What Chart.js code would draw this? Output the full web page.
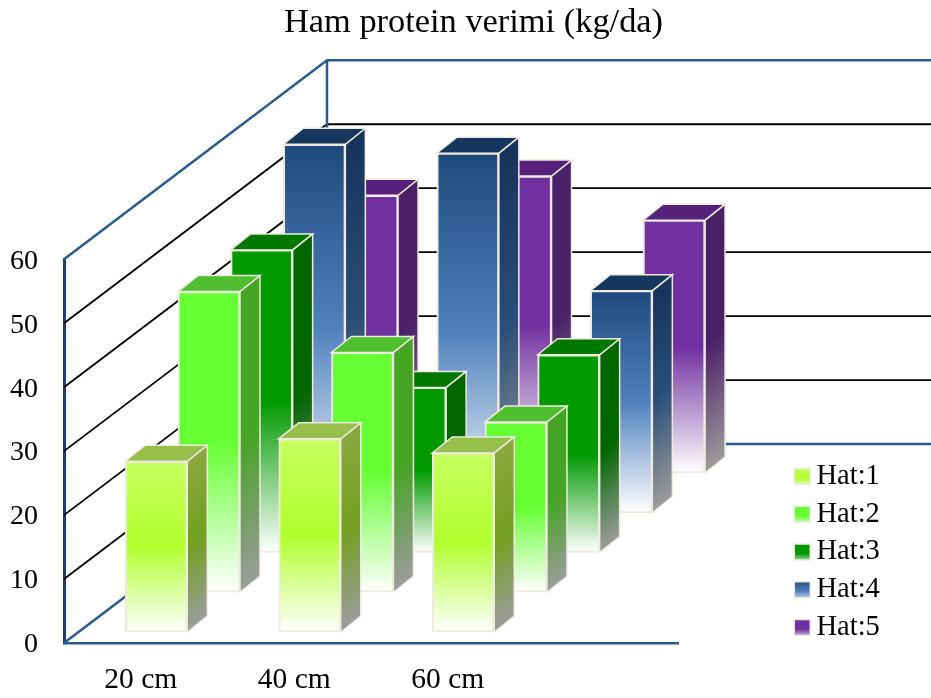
<!DOCTYPE html>
<html>
<head>
<meta charset="utf-8">
<style>html,body{margin:0;padding:0;background:#fff}canvas{display:block}</style>
<script src="https://cdn.jsdelivr.net/npm/chart.js@4"></script>
</head>
<body>
<canvas id="c" width="931" height="698"></canvas>
<script>
const categories = ['20 cm', '40 cm', '60 cm', ''];
const seriesNames = ['Hat:1', 'Hat:2', 'Hat:3', 'Hat:4', 'Hat:5'];
const hat1 = [26.7, 30.2, 28.0];
const hat2 = [47.0, 37.5, 26.6];
const hat3 = [47.3, 25.8, 30.9];
const hat4 = [57.6, 56.2, 34.7];
const hat5 = [43.4, 46.4, 39.5];
const seriesValues = [hat1, hat2, hat3, hat4, hat5];

const faceTop = ['#c8ff60', '#66ff33', '#009900', '#1f497d', '#7030a0'];
const faceMid = ['#b0ff2e', '#66ff33', '#009900', '#4f81bd', '#7030a0'];
const sideTop = ['#8aa83e', '#46a424', '#006600', '#16325a', '#4a2068'];
const sideMid = ['#72a01e', '#46a424', '#006600', '#2a4e78', '#4a2068'];
const topFace = ['#97c04a', '#4fbf2f', '#007700', '#17365d', '#55217a'];

const WALL_DX = 263, WALL_DY = -199;
const STEP_DX = 52.7, STEP_DY = -39.8;
const START_DX = 15.5, START_DY = -11;
const BAR_DX = 20, BAR_DY = -16;
const CREAM = '#eeeadf', WALL_BLUE = '#2b5a8c';

function faceGradient(ctx, i, top, base) {
  const g = ctx.createLinearGradient(0, top, 0, base);
  g.addColorStop(0, faceTop[i]);
  g.addColorStop(0.5, faceMid[i]);
  g.addColorStop(1, '#ffffff');
  return g;
}

const depth3d = {
  id: 'depth3d',
  afterLayout(chart) {
    const lg = chart.legend, h = lg.height, w = lg.width;
    lg.left = 793; lg.right = 793 + w; lg.top = 453; lg.bottom = 453 + h;
    chart.titleBlock.left = 16;
    chart.titleBlock.right = chart.width;
  },
  beforeDraw(chart) {
    chart.scales.y.getLabelItems(chart.chartArea).forEach(it => { it.options.translation[1] += 2; });
  },
  beforeDatasetsDraw(chart) {
    const { ctx, scales: { y }, chartArea: a, width } = chart;
    ctx.save();
    y.ticks.forEach(t => {
      const p = y.getPixelForValue(t.value);
      const outer = t.value === y.min || t.value === y.max;
      ctx.strokeStyle = outer ? WALL_BLUE : '#000000';
      ctx.lineWidth = outer ? 2.5 : 1.8;
      ctx.beginPath();
      ctx.moveTo(a.left, p);
      ctx.lineTo(a.left + WALL_DX, p + WALL_DY);
      ctx.lineTo(width, p + WALL_DY);
      ctx.stroke();
    });
    ctx.strokeStyle = WALL_BLUE;
    ctx.lineWidth = 2.5;
    ctx.beginPath();
    ctx.moveTo(a.left + WALL_DX, a.top + WALL_DY);
    ctx.lineTo(a.left + WALL_DX, a.bottom + WALL_DY);
    ctx.stroke();
    ctx.restore();
  },
  beforeDatasetDraw(chart, args) {
    const { ctx } = chart, i = args.index;
    ctx.save();
    ctx.translate(START_DX + STEP_DX * i, START_DY + STEP_DY * i);
    args.meta.data.forEach(bar => {
      const L = bar.x - bar.width / 2, R = bar.x + bar.width / 2;
      const top = bar.y, base = bar.base;
      // side face, gradient sheared with the face
      ctx.save();
      ctx.transform(1, BAR_DY / BAR_DX, 0, 1, 0, -R * BAR_DY / BAR_DX);
      const g = ctx.createLinearGradient(0, top, 0, base);
      g.addColorStop(0, sideTop[i]);
      g.addColorStop(0.5, sideMid[i]);
      g.addColorStop(1, '#9c9c9c');
      ctx.fillStyle = g;
      ctx.fillRect(R, top, BAR_DX, base - top);
      ctx.strokeStyle = CREAM;
      ctx.lineWidth = 1.5;
      ctx.strokeRect(R, top, BAR_DX, base - top);
      ctx.restore();
      // top face
      ctx.fillStyle = topFace[i];
      ctx.strokeStyle = CREAM;
      ctx.lineWidth = 1.5;
      ctx.beginPath();
      ctx.moveTo(L, top);
      ctx.lineTo(R, top);
      ctx.lineTo(R + BAR_DX, top + BAR_DY);
      ctx.lineTo(L + BAR_DX, top + BAR_DY);
      ctx.closePath();
      ctx.fill();
      ctx.stroke();
    });
  },
  afterDatasetDraw(chart) {
    chart.ctx.restore();
  }
};

const chart = new Chart(document.getElementById('c'), {
  type: 'bar',
  plugins: [depth3d],
  data: {
    labels: categories,
    datasets: seriesNames.map((name, i) => ({
      label: name,
      data: seriesValues[i],
      clip: false,
      grouped: false,
      barThickness: 62,
      borderWidth: 2,
      borderSkipped: false,
      borderColor: CREAM,
      backgroundColor(c) {
        if (c.type !== 'data') return faceMid[i];
        const y = c.chart.scales.y;
        return faceGradient(c.chart.ctx, i, y.getPixelForValue(c.raw), y.getPixelForValue(0));
      }
    }))
  },
  options: {
    responsive: false,
    animation: false,
    layout: { padding: { left: 0, right: 150, top: 0, bottom: 0 } },
    font: { family: '"Liberation Serif"' },
    plugins: {
      tooltip: { enabled: false },
      title: {
        display: true,
        text: 'Ham protein verimi (kg/da)',
        color: '#000000',
        font: { family: '"Liberation Serif"', size: 34.4, weight: 'normal', lineHeight: 1.2 },
        padding: { top: 2, bottom: 216 }
      },
      legend: {
        display: true,
        position: 'right',
        align: 'start',
        labels: {
          color: '#000000',
          font: { family: '"Liberation Serif"', size: 28.5 },
          padding: 9.25,
          usePointStyle: true,
          boxWidth: 0.01,
          boxHeight: 16,
          generateLabels(ch) {
            return seriesNames.map((text, i) => {
              const rowTop = 467 + i * 37.75;
              return {
                text,
                datasetIndex: i,
                pointStyle: 'rect',
                fillStyle: faceGradient(ch.ctx, i, rowTop, rowTop + 22),
                strokeStyle: CREAM,
                lineWidth: 1.5,
                fontColor: '#000000'
              };
            });
          }
        }
      }
    },
    scales: {
      x: {
        grid: { display: false, drawTicks: false },
        border: { display: true, color: WALL_BLUE, width: 2.5 },
        ticks: {
          color: '#000000',
          font: { family: '"Liberation Serif"', size: 29.5 },
          padding: 20,
          maxRotation: 0,
          autoSkip: false
        },
        afterFit(s) { s.height = 55; }
      },
      y: {
        min: 0,
        max: 60,
        grid: { display: false, drawTicks: false },
        border: { display: true, color: '#1f3f6a', width: 3 },
        ticks: {
          stepSize: 10,
          color: '#000000',
          font: { family: '"Liberation Serif"', size: 28 },
          padding: 26
        },
        afterFit(s) { s.width = 64; }
      }
    }
  }
});
chart.options.layout.padding.right = 253 - chart.legend.width;
chart.update();
</script>
</body>
</html>
